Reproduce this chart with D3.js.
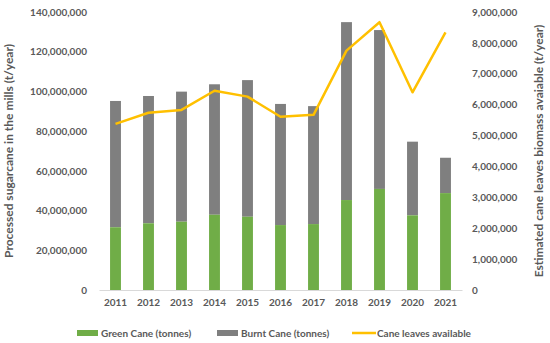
<!DOCTYPE html>
<html>
<head>
<meta charset="utf-8">
<script src="https://cdn.jsdelivr.net/npm/d3@7"></script>
<style>
  body { margin: 0; background: #fff; }
  svg text { font-family: Lato, "Open Sans", sans-serif; font-weight: bold; fill: #595959; }
</style>
</head>
<body>
<svg id="chart" width="550" height="343"></svg>
<script>
var years = ["2011", "2012", "2013", "2014", "2015", "2016", "2017", "2018", "2019", "2020", "2021"];
var greenCane = [31.6e6, 33.6e6, 34.4e6, 37.9e6, 36.9e6, 32.7e6, 33.2e6, 45.3e6, 50.9e6, 37.6e6, 48.8e6];
var totalCane = [95.2e6, 97.7e6, 99.9e6, 103.6e6, 105.7e6, 93.7e6, 92.6e6, 134.9e6, 130.9e6, 74.7e6, 66.6e6];
var caneLeaves = [5.38e6, 5.74e6, 5.83e6, 6.45e6, 6.26e6, 5.61e6, 5.67e6, 7.75e6, 8.67e6, 6.40e6, 8.34e6];
var leftTicks = d3.range(0, 140000001, 20000000);
var rightTicks = d3.range(0, 9000001, 1000000);

var svg = d3.select("#chart");
var margin = { top: 12, left: 99, right: 88, bottom: 53 };
var w = 550 - margin.left - margin.right;
var h = 343 - margin.top - margin.bottom;

var g = svg.append("g").attr("transform", "translate(" + margin.left + "," + margin.top + ")");

var x = d3.scaleBand().domain(years).range([0, w]).padding(0);
var yL = d3.scaleLinear().domain([0, 140000000]).range([h, 0]);
var yR = d3.scaleLinear().domain([0, 9000000]).range([h, 0]);
var fmt = d3.format(",");
var barW = x.bandwidth() * 0.33;

// axes
var axL = g.append("g").call(d3.axisLeft(yL).tickValues(leftTicks).tickFormat(fmt).tickSize(0).tickPadding(12));
var axR = g.append("g").attr("transform", "translate(" + w + ",0)")
  .call(d3.axisRight(yR).tickValues(rightTicks).tickFormat(fmt).tickSize(0).tickPadding(10));
var axB = g.append("g").attr("transform", "translate(0," + h + ")")
  .call(d3.axisBottom(x).tickSize(0).tickPadding(9));
axL.select(".domain").remove();
axR.select(".domain").remove();
axB.select(".domain").attr("stroke", "#d9d9d9");
g.selectAll(".tick text").attr("font-size", 10).style("font-family", "Lato, sans-serif");

// bars
var bars = g.append("g").selectAll("g").data(years).enter().append("g");
bars.append("rect")
  .attr("x", function(d) { return x(d) + (x.bandwidth() - barW) / 2; })
  .attr("width", barW)
  .attr("y", function(d, i) { return yL(totalCane[i]); })
  .attr("height", function(d, i) { return yL(greenCane[i]) - yL(totalCane[i]); })
  .attr("fill", "#7f7f7f");
bars.append("rect")
  .attr("x", function(d) { return x(d) + (x.bandwidth() - barW) / 2; })
  .attr("width", barW)
  .attr("y", function(d, i) { return yL(greenCane[i]); })
  .attr("height", function(d, i) { return h - yL(greenCane[i]); })
  .attr("fill", "#70ad47");

// line
var line = d3.line()
  .x(function(d, i) { return x(years[i]) + x.bandwidth() / 2; })
  .y(function(d) { return yR(d); });
g.append("path").datum(caneLeaves)
  .attr("d", line)
  .attr("fill", "none")
  .attr("stroke", "#ffc000")
  .attr("stroke-width", 2.5)
  .attr("stroke-linejoin", "round");

// axis titles
svg.append("text")
  .attr("transform", "translate(13," + (margin.top + h / 2) + ") rotate(-90)")
  .attr("text-anchor", "middle")
  .attr("font-size", 12)
  .text("Processed sugarcane in the mills (t/year)");
svg.append("text")
  .attr("transform", "translate(543," + (margin.top + h / 2) + ") rotate(-90)")
  .attr("text-anchor", "middle")
  .attr("font-size", 12)
  .text("Estimated cane leaves biomass avaiable (t/year)");

// legend
var legend = [
  { label: "Green Cane (tonnes)", color: "#70ad47", type: "bar", x: 77 },
  { label: "Burnt Cane (tonnes)", color: "#7f7f7f", type: "bar", x: 217 },
  { label: "Cane leaves available", color: "#ffc000", type: "line", x: 352 }
];
var lg = svg.append("g").selectAll("g").data(legend).enter().append("g")
  .attr("transform", function(d) { return "translate(" + d.x + ",333)"; });
lg.append("rect")
  .attr("y", function(d) { return d.type === "bar" ? -3 : -1.25; })
  .attr("width", function(d) { return d.type === "bar" ? 21 : 24; })
  .attr("height", function(d) { return d.type === "bar" ? 6 : 2.5; })
  .attr("fill", function(d) { return d.color; });
lg.append("text")
  .attr("x", function(d) { return d.type === "bar" ? 24 : 25; })
  .attr("dy", "0.35em")
  .attr("font-size", 10)
  .text(function(d) { return d.label; });
</script>
</body>
</html>
